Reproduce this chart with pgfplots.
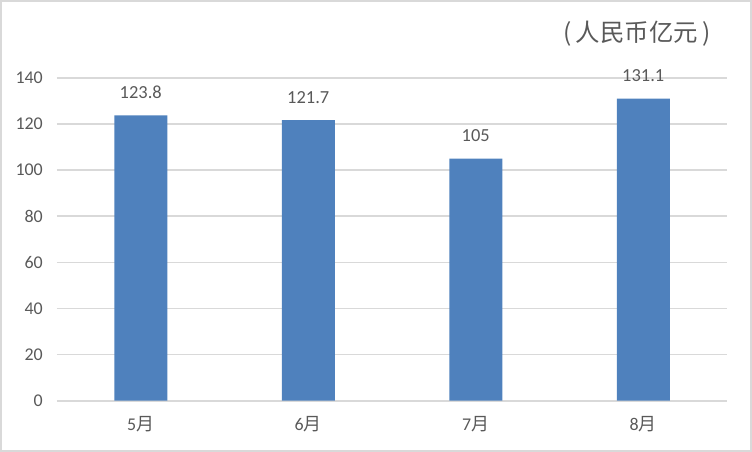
\documentclass[border=0pt]{standalone}
\usepackage{pgfplots}
\pgfplotsset{compat=1.18}
\usepackage{fontspec}
\setmainfont{Carlito}
\newfontfamily\cjk{Noto Sans CJK SC}
\definecolor{barblue}{HTML}{4F81BD}
\definecolor{gridgray}{HTML}{D9D9D9}
\definecolor{txtgray}{HTML}{595959}
\begin{document}
\begin{tikzpicture}
\useasboundingbox (0,0) rectangle (752bp,452bp);
\draw[gridgray, line width=2bp] (1bp,1bp) rectangle (751bp,451bp);
\begin{axis}[
    at={(57bp,51.3bp)}, anchor=south west,
    scale only axis,
    width=670bp, height=322.7bp,
    ymin=0, ymax=140,
    xmin=-0.5, xmax=3.5,
    ytick={0,20,...,140},
    xtick={0,1,2,3},
    xticklabels={5{\cjk 月},6{\cjk 月},7{\cjk 月},8{\cjk 月}},
    ymajorgrids,
    major grid style={gridgray, line width=1.6bp},
    axis line style={draw=none},
    major tick length=0pt,
    /pgf/number format/assume math mode=true,
    tick label style={font=\fontsize{18}{20}\selectfont, text=txtgray},
    yticklabel style={anchor=east, inner sep=0pt, xshift=-14bp},
    xticklabel style={anchor=center, inner sep=0pt, yshift=-23bp},
    ybar, bar width=53bp,
    nodes near coords,
    every node near coord/.append style={anchor=center, inner sep=0pt, yshift=23bp,
        font=\fontsize{18.5}{20}\selectfont, text=txtgray},
]
\addplot[fill=barblue, draw=none] coordinates {(0,123.8) (1,121.7) (2,105) (3,131.1)};
\end{axis}
\node[text=txtgray, font=\cjk\fontsize{24.5}{28}\selectfont, inner sep=0pt] at (637bp,418bp) {(\,人民币亿元\,)};
\end{tikzpicture}
\end{document}
